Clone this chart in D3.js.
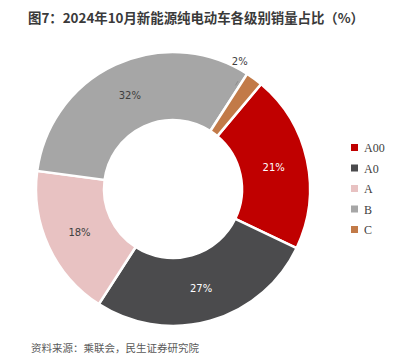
<!DOCTYPE html>
<html>
<head>
<meta charset="utf-8">
<script src="https://cdn.jsdelivr.net/npm/d3@7"></script>
<style>
  body { margin: 0; background: #fff; }
  svg { display: block; }
</style>
</head>
<body>
<svg id="chart" width="405" height="362"></svg>
<script>
// data
var categories = ["A00", "A0", "A", "B", "C"];
var shares = [21, 27, 18, 32, 2];
var colors = ["#C00000", "#4B4B4D", "#E8C2C2", "#A6A6A6", "#C27A48"];

var width = 405, height = 362;
var cx = 173, cy = 189;
var rOut = 137, rIn = 69;
var startDeg = 40;

var svg = d3.select("#chart");

svg.append("text")
    .attr("x", 28)
    .attr("y", 23)
    .attr("fill", "#3a3a3a")
    .attr("font-family", "'Noto Sans CJK SC', sans-serif")
    .attr("font-weight", "bold")
    .attr("font-size", "13.4px")
    .text("图7：2024年10月新能源纯电动车各级别销量占比（%）");

var pie = d3.pie()
    .sort(null)
    .value(d => d)
    .startAngle(startDeg * Math.PI / 180)
    .endAngle((startDeg + 360) * Math.PI / 180);

var arc = d3.arc().innerRadius(rIn).outerRadius(rOut);
var labelArc = d3.arc().innerRadius(103).outerRadius(103);

var g = svg.append("g").attr("transform", "translate(" + cx + "," + cy + ")");
var arcs = pie(shares);

g.selectAll("path.slice")
    .data(arcs)
    .enter().append("path")
    .attr("class", "slice")
    .attr("d", arc)
    .attr("fill", (d, i) => colors[i])
    .attr("stroke", "#fff")
    .attr("stroke-width", 2.5);

// labels
arcs.forEach(function(d, i) {
    var p;
    if (shares[i] < 5) {
        // small slice: label outside, short leader
        var a = d.startAngle - 0.09;
        p = [Math.sin(a) * 144, -Math.cos(a) * 144];
        var al = d.startAngle - 0.03;
        g.append("line")
            .attr("x1", Math.sin(al) * 121)
            .attr("y1", -Math.cos(al) * 121)
            .attr("x2", Math.sin(al) * 126)
            .attr("y2", -Math.cos(al) * 126)
            .attr("stroke", "#8c8c8c")
            .attr("stroke-width", 1);
    } else {
        p = labelArc.centroid(d);
    }
    g.append("text")
        .attr("x", p[0])
        .attr("y", p[1])
        .attr("dy", "0.35em")
        .attr("text-anchor", "middle")
        .attr("font-family", "'DejaVu Sans', sans-serif")
        .attr("font-size", "10px")
        .attr("fill", i < 2 ? "#fff" : "#404040")
        .text(shares[i] + "%");
});

// legend
var legend = svg.append("g").attr("transform", "translate(351,148)");
categories.forEach(function(c, i) {
    var row = legend.append("g").attr("transform", "translate(0," + (i * 20.5) + ")");
    row.append("rect")
        .attr("x", 0).attr("y", -4)
        .attr("width", 7).attr("height", 7)
        .attr("fill", colors[i]);
    row.append("text")
        .attr("x", 13)
        .attr("y", 0)
        .attr("dy", "0.35em")
        .attr("font-family", "'Liberation Serif', 'DejaVu Serif', serif")
        .attr("font-size", "12px")
        .attr("fill", "#404040")
        .text(c);
});

svg.append("text")
    .attr("x", 31)
    .attr("y", 352)
    .attr("fill", "#595959")
    .attr("font-family", "'Noto Sans CJK SC', sans-serif")
    .attr("font-size", "10.5px")
    .text("资料来源：乘联会，民生证券研究院");
</script>
</body>
</html>
